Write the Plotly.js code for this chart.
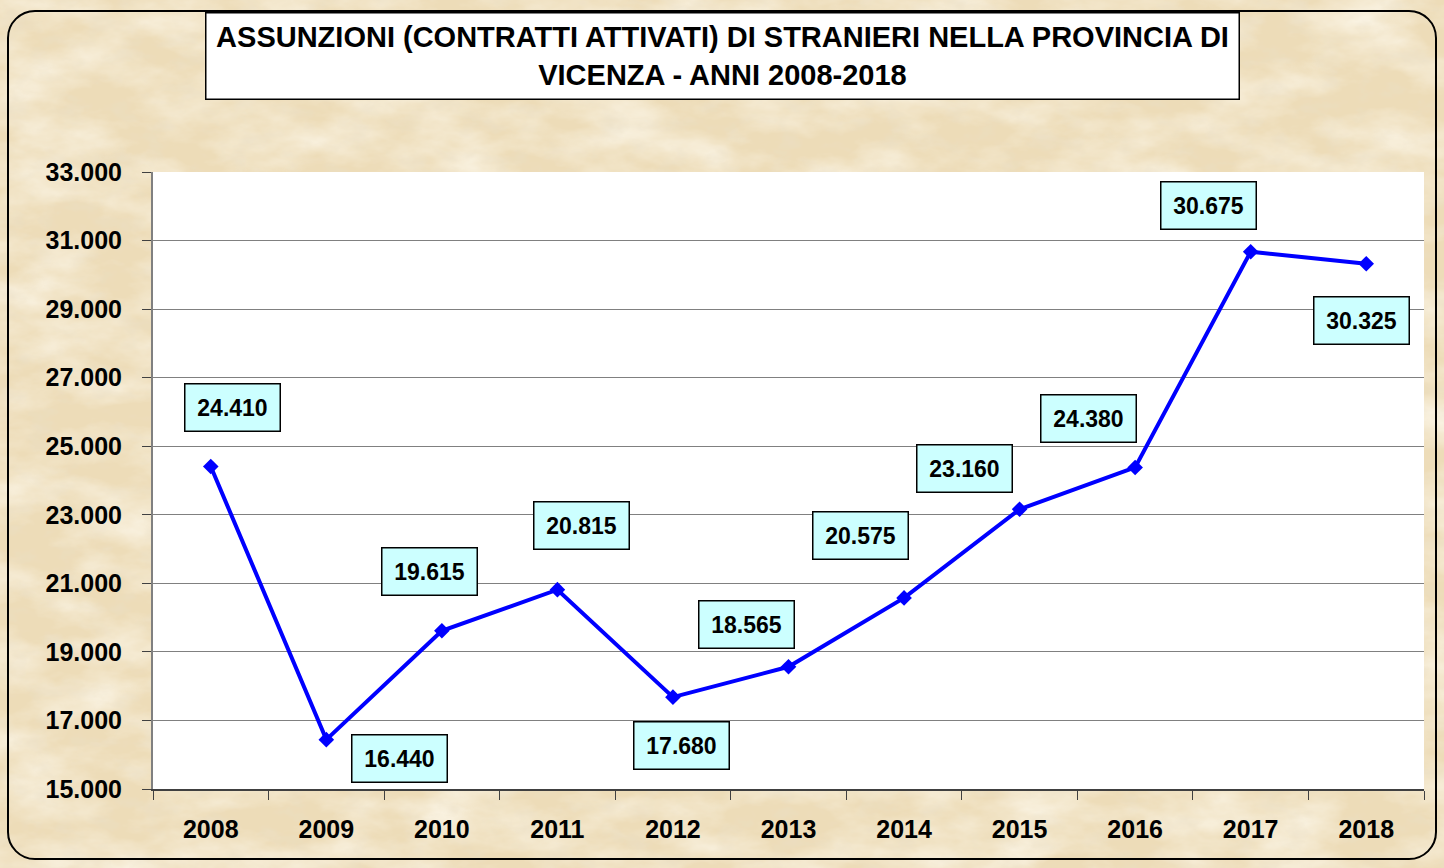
<!DOCTYPE html>
<html><head><meta charset="utf-8">
<script src="https://cdn.plot.ly/plotly-3.0.1.min.js"></script>
<style>
html,body{margin:0;padding:0;width:1444px;height:868px;overflow:hidden;}
body{background-color:#eddcb8;}
#tex{position:absolute;left:0;top:0;width:1444px;height:868px;}
#frame{position:absolute;left:7px;top:10px;width:1426px;height:846px;border:2px solid #000;border-radius:28px;pointer-events:none;}
#chart{position:absolute;left:0;top:0;width:1444px;height:868px;}
</style></head>
<body>
<svg id="tex" width="1444" height="868" xmlns="http://www.w3.org/2000/svg">
  <filter id="parch" x="0" y="0" width="100%" height="100%">
    <feTurbulence type="fractalNoise" baseFrequency="0.012 0.025" numOctaves="5" seed="7" result="n"/>
    <feColorMatrix in="n" type="matrix"
      values="0 0 0 0 0.98
              0 0 0 0 0.94
              0 0 0 0 0.84
              1.5 0 0 0 -0.55" />
  </filter>
  <filter id="parch2" x="0" y="0" width="100%" height="100%">
    <feTurbulence type="fractalNoise" baseFrequency="0.035 0.06" numOctaves="4" seed="3" result="n"/>
    <feColorMatrix in="n" type="matrix"
      values="0 0 0 0 0.82
              0 0 0 0 0.74
              0 0 0 0 0.58
              1.2 0 0 0 -0.6" />
  </filter>
  <rect width="1444" height="868" fill="#eddcb8"/>
  <rect width="1444" height="868" filter="url(#parch)"/>
  <rect width="1444" height="868" filter="url(#parch2)"/>
</svg>
<div id="frame"></div>
<div id="chart"></div>
<script>
const years = ['2008','2009','2010','2011','2012','2013','2014','2015','2016','2017','2018'];
const hires = [24410, 16440, 19615, 20815, 17680, 18565, 20575, 23160, 24380, 30675, 30325];
const labelTexts = ['24.410','16.440','19.615','20.815','17.680','18.565','20.575','23.160','24.380','30.675','30.325'];
const labelShiftX = [22, 73, -12, 24, 9, -42, -44, -55, -47, -42, -5];
const labelShiftY = [59, -19, 59, 64, -48, 42, 62, 41, 49, 46, -57];
const yTickVals = [15000,17000,19000,21000,23000,25000,27000,29000,31000,33000];
const yTickText = ['15.000','17.000','19.000','21.000','23.000','25.000','27.000','29.000','31.000','33.000'];
const titleText = 'ASSUNZIONI (CONTRATTI ATTIVATI) DI STRANIERI NELLA PROVINCIA DI<br>VICENZA - ANNI 2008-2018';

const F = 'Liberation Sans, Arial, sans-serif';
const trace = {
  x: years, y: hires, type:'scatter', mode:'lines+markers',
  line:{color:'#0000ff', width:4},
  marker:{symbol:'diamond', size:12, color:'#0000ff'},
  hoverinfo:'x+y', cliponaxis:false
};
const anns = years.map((yr,i)=>({
  x: i, y: hires[i], xref:'x', yref:'y', text: labelTexts[i], showarrow:false,
  xshift: labelShiftX[i], yshift: labelShiftY[i],
  bgcolor:'#ccffff', bordercolor:'#000', borderwidth:1.5, borderpad:0,
  width:94, height:46, font:{family:F, size:23, color:'#000', weight:'bold'}
}));
anns.push({
  xref:'paper', yref:'paper', x:(722.5-153)/1271, y:(789-56)/617, xanchor:'center', yanchor:'middle',
  text: titleText, showarrow:false, bgcolor:'#ffffff', bordercolor:'#000', borderwidth:1.5, borderpad:0,
  width:1032, height:85, font:{family:F, size:29, color:'#000', weight:'bold'}
});
const layout = {
  width:1444, height:868,
  margin:{l:153, r:20, t:172, b:79},
  paper_bgcolor:'rgba(0,0,0,0)', plot_bgcolor:'#ffffff',
  showlegend:false,
  font:{family:F, color:'#000'},
  xaxis:{type:'category', range:[-0.5, 10.5], autorange:false, tickson:'boundaries', ticks:'outside', ticklen:9, tickcolor:'#404040', tickwidth:1,
    showgrid:false, showline:true, linecolor:'#404040', linewidth:1.5, zeroline:false, tickangle:0,
    tickfont:{family:F, size:25, color:'#000', weight:'bold'}, ticklabelstandoff:17, fixedrange:true},
  yaxis:{range:[15000,33000], autorange:false, tickvals:yTickVals, ticktext:yTickText, ticks:'outside', ticklen:9,
    tickcolor:'#404040', showgrid:true, gridcolor:'#808080', gridwidth:1, showline:true, linecolor:'#808080',
    linewidth:2, zeroline:false, tickfont:{family:F, size:25, color:'#000', weight:'bold'}, ticklabelstandoff:15, fixedrange:true},
  annotations: anns
};
Plotly.newPlot('chart',[trace],layout,{displayModeBar:false});
</script>
</body></html>
